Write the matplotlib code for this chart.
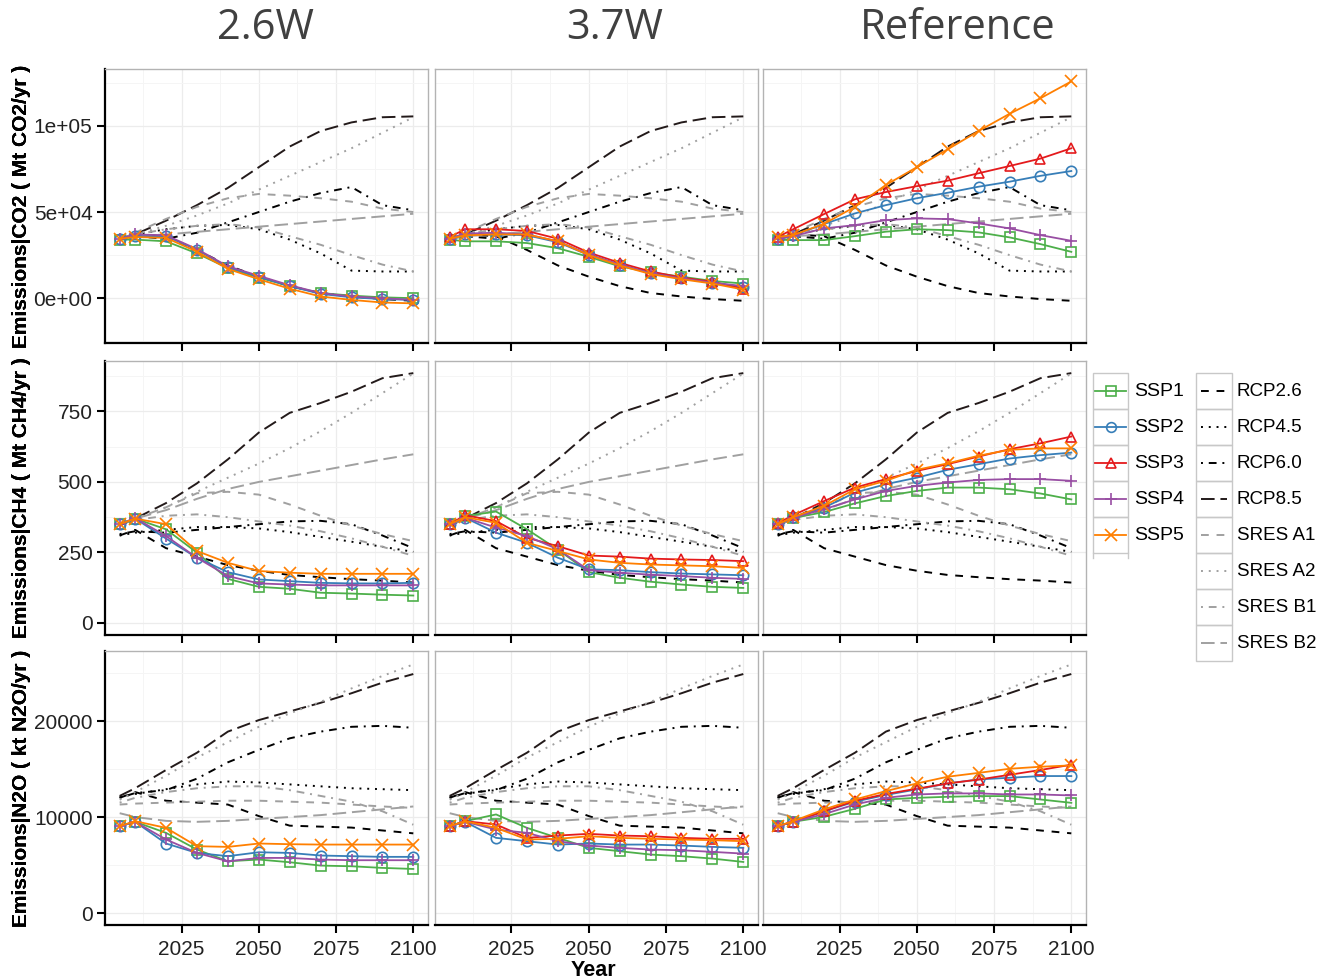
import matplotlib.pyplot as plt
from matplotlib.patches import Rectangle
from matplotlib.lines import Line2D

years = [2005, 2010, 2020, 2030, 2040, 2050, 2060, 2070, 2080, 2090, 2100]

# background scenarios (same in every column)
co2_bg = {
    "RCP2.6": [35000, 37000, 36000, 28000, 19000, 12500, 7000, 3000, 1000, -500, -1500],
    "RCP4.5": [35000, 37000, 40000, 42000, 42500, 40000, 34000, 26000, 16000, 15500, 15500],
    "RCP6.0": [35000, 36000, 34500, 38000, 44000, 50000, 56000, 61000, 64500, 54000, 51000],
    "RCP8.5": [34500, 37000, 45000, 54000, 64000, 76000, 88000, 97000, 102000, 105000, 105500],
    "SRES A1": [35000, 38000, 46000, 53000, 58000, 60500, 59500, 58000, 56000, 52000, 50000],
    "SRES A2": [35000, 37000, 42000, 48000, 55000, 63000, 71000, 79000, 87000, 96000, 105000],
    "SRES B1": [35000, 37000, 40000, 42000, 43000, 41000, 36000, 31000, 25000, 19500, 15500],
    "SRES B2": [34000, 36000, 37000, 38500, 40000, 41500, 43000, 44500, 46000, 47500, 49000],
}
ch4_bg = {
    "RCP2.6": [310, 330, 265, 235, 205, 185, 170, 162, 155, 150, 143],
    "RCP4.5": [310, 320, 330, 340, 340, 335, 322, 305, 288, 270, 252],
    "RCP6.0": [315, 325, 320, 330, 340, 350, 360, 362, 350, 310, 265],
    "RCP8.5": [345, 370, 425, 495, 580, 675, 745, 780, 820, 868, 886],
    "SRES A1": [350, 370, 410, 460, 465, 455, 420, 380, 345, 315, 290],
    "SRES A2": [350, 370, 410, 465, 515, 565, 620, 680, 745, 815, 885],
    "SRES B1": [350, 365, 380, 385, 375, 360, 345, 325, 300, 270, 238],
    "SRES B2": [350, 370, 400, 440, 475, 500, 520, 540, 560, 580, 598],
}
n2o_bg = {
    "RCP2.6": [12000, 12600, 11700, 11500, 11300, 10100, 9100, 9000, 8900, 8600, 8300],
    "RCP4.5": [12100, 12400, 12900, 13400, 13700, 13600, 13400, 13200, 13000, 12900, 12800],
    "RCP6.0": [12000, 12500, 12800, 14000, 15700, 17000, 18200, 18900, 19400, 19500, 19300],
    "RCP8.5": [12200, 13000, 14900, 16700, 18900, 20100, 21000, 21900, 22900, 24000, 24900],
    "SRES A1": [11300, 11400, 11500, 11600, 11700, 11700, 11600, 11500, 11300, 11100, 10950],
    "SRES A2": [11800, 12600, 14300, 16200, 17800, 19400, 20800, 22000, 23400, 24700, 25900],
    "SRES B1": [11500, 12000, 12600, 13000, 13200, 13200, 12800, 12200, 11600, 10600, 9200],
    "SRES B2": [10400, 10000, 9600, 9500, 9600, 9800, 10000, 10200, 10500, 10800, 11100],
}

# SSP runs per panel
co2_26 = {
    "SSP1": [34000, 34000, 33000, 26000, 17500, 12000, 7000, 3000, 1500, 500, 0],
    "SSP2": [34500, 36000, 36000, 28000, 18000, 12500, 7000, 2500, 500, -500, -1000],
    "SSP4": [34500, 37000, 36500, 28500, 18500, 13000, 7500, 3000, 1000, 0, -1000],
    "SSP5": [34500, 35500, 35000, 27000, 17000, 11000, 5500, 1000, -1000, -2500, -3000],
}
co2_37 = {
    "SSP1": [34000, 33000, 33000, 32000, 29000, 24000, 18500, 15000, 12500, 10000, 8500],
    "SSP2": [34500, 37000, 37000, 36500, 32500, 25000, 19500, 14500, 11500, 9000, 6500],
    "SSP3": [35500, 40000, 40000, 39000, 34500, 26500, 20500, 15500, 12000, 9500, 5500],
    "SSP4": [34500, 37500, 38000, 37000, 33000, 25500, 19500, 14500, 11500, 9000, 7000],
    "SSP5": [34500, 36500, 37000, 37000, 33000, 25000, 19000, 14000, 11000, 8500, 5000],
}
co2_ref = {
    "SSP1": [34000, 33700, 33700, 36000, 38600, 40000, 39500, 38200, 35300, 31400, 26900],
    "SSP2": [34500, 36500, 43000, 49200, 54000, 58000, 61200, 64700, 67600, 71000, 73800],
    "SSP3": [35500, 40000, 48800, 57400, 61600, 65000, 68200, 72500, 76700, 81000, 87000],
    "SSP4": [34500, 36000, 40500, 42400, 45300, 46300, 45900, 43400, 40500, 36600, 33300],
    "SSP5": [35500, 36600, 43200, 53000, 65700, 76000, 86400, 97000, 107000, 116000, 125800],
}
ch4_26 = {
    "SSP1": [350, 370, 332, 249, 156, 128, 121, 107, 104, 100, 97],
    "SSP2": [350, 370, 299, 231, 180, 154, 148, 142, 140, 140, 142],
    "SSP4": [350, 372, 308, 231, 166, 140, 136, 133, 133, 133, 133],
    "SSP5": [350, 370, 350, 255, 213, 184, 178, 174, 174, 174, 174],
}
ch4_37 = {
    "SSP1": [350, 379, 395, 332, 260, 180, 160, 146, 136, 128, 124],
    "SSP2": [350, 373, 320, 284, 231, 190, 187, 180, 175, 172, 169],
    "SSP3": [350, 382, 361, 302, 272, 239, 235, 228, 225, 223, 219],
    "SSP4": [350, 373, 338, 308, 261, 187, 178, 171, 166, 160, 156],
    "SSP5": [350, 375, 355, 284, 255, 225, 213, 207, 204, 201, 195],
}
ch4_ref = {
    "SSP1": [350, 372, 393, 424, 450, 468, 480, 480, 474, 459, 438],
    "SSP2": [350, 375, 409, 462, 492, 515, 543, 563, 583, 595, 604],
    "SSP3": [353, 382, 432, 480, 510, 539, 563, 590, 616, 637, 661],
    "SSP4": [350, 373, 403, 438, 468, 486, 498, 507, 510, 510, 504],
    "SSP5": [350, 375, 415, 474, 504, 543, 566, 593, 614, 619, 619],
}
n2o_26 = {
    "SSP1": [9050, 9500, 8350, 6610, 5390, 5570, 5290, 4940, 4870, 4700, 4590],
    "SSP2": [9050, 9500, 7240, 6260, 5920, 6330, 6260, 5990, 5920, 5850, 5850],
    "SSP4": [9050, 9500, 7660, 6260, 5390, 5740, 5740, 5570, 5500, 5500, 5500],
    "SSP5": [9050, 9570, 8870, 6960, 6890, 7240, 7170, 7130, 7130, 7130, 7130],
}
n2o_37 = {
    "SSP1": [9050, 9570, 10270, 8870, 7830, 6790, 6440, 6090, 5920, 5670, 5320],
    "SSP2": [9050, 9500, 7830, 7480, 7130, 7240, 7130, 7130, 7030, 6890, 6790],
    "SSP3": [9050, 9570, 9220, 7830, 8070, 8250, 8070, 8000, 7830, 7730, 7730],
    "SSP4": [9050, 9500, 8700, 8350, 7480, 7030, 6790, 6610, 6540, 6370, 6190],
    "SSP5": [9050, 9570, 8870, 7660, 7730, 8000, 7830, 7730, 7660, 7590, 7480],
}
n2o_ref = {
    "SSP1": [9050, 9500, 10020, 10860, 11830, 12000, 12110, 12180, 12180, 11830, 11480],
    "SSP2": [9050, 9500, 10600, 11600, 12300, 12880, 13500, 13920, 14090, 14270, 14270],
    "SSP3": [9050, 9500, 10600, 11700, 12400, 12950, 13500, 13900, 14400, 14900, 15450],
    "SSP4": [9050, 9500, 10300, 11310, 12000, 12350, 12460, 12460, 12350, 12350, 12250],
    "SSP5": [9050, 9570, 10790, 11830, 12700, 13500, 14200, 14600, 15030, 15240, 15380],
}

col_titles = ["2.6W", "3.7W", "Reference"]
row_labels = ["Emissions|CO2 ( Mt CO2/yr )", "Emissions|CH4 ( Mt CH4/yr )",
              "Emissions|N2O ( kt N2O/yr )"]
x_ticks = [2025, 2050, 2075, 2100]

ssp_style = {
    "SSP1": ("#4DAF4A", "s"),
    "SSP2": ("#377EB8", "o"),
    "SSP3": ("#E41A1C", "^"),
    "SSP4": ("#984EA3", "+"),
    "SSP5": ("#FF7F00", "x"),
}
bg_style = {
    "RCP2.6": ("black", (4, 4)),
    "RCP4.5": ("black", (1, 3)),
    "RCP6.0": ("black", (1, 3, 4, 3)),
    "RCP8.5": ("#231a1a", (7, 3)),
    "SRES A1": ("#a0a0a0", (4, 4)),
    "SRES A2": ("#a0a0a0", (1, 3)),
    "SRES B1": ("#a0a0a0", (1, 3, 4, 3)),
    "SRES B2": ("#a0a0a0", (7, 3)),
}

rows = [
    (co2_bg, [co2_26, co2_37, co2_ref], (-26000, 133000), [0, 50000, 100000],
     ["0e+00", "5e+04", "1e+05"], [-25000, 25000, 75000, 125000]),
    (ch4_bg, [ch4_26, ch4_37, ch4_ref], (-43, 929), [0, 250, 500, 750],
     ["0", "250", "500", "750"], [125, 375, 625, 875]),
    (n2o_bg, [n2o_26, n2o_37, n2o_ref], (-1250, 27300), [0, 10000, 20000],
     ["0", "10000", "20000"], [5000, 15000, 25000]),
]

W, H = 1319, 980
fig = plt.figure(figsize=(W / 100, H / 100), dpi=100)
plt.rcParams['font.family'] = ['Liberation Sans', 'DejaVu Sans']

col_left = [105, 435, 763]
row_top = [69, 361, 651]
pw, ph = 323, 274

for r, (bg, panels, ylim, yt, ytl, ymin) in enumerate(rows):
    for c in range(3):
        ax = fig.add_axes([col_left[c] / W, 1 - (row_top[r] + ph) / H, pw / W, ph / H])
        for name, vals in bg.items():
            color, dash = bg_style[name]
            ax.plot(years, vals, color=color, lw=1.4, dashes=dash, zorder=2)
        for name, vals in panels[c].items():
            color, mk = ssp_style[name]
            ax.plot(years, vals, color=color, lw=1.3, marker=mk, ms=8.5 if mk in "+x" else 7.5,
                    mfc="none", mew=1.2, zorder=3)
        ax.set_xlim(2000.25, 2104.75)
        ax.set_ylim(*ylim)
        ax.set_xticks(x_ticks)
        ax.set_xticks([2012.5, 2037.5, 2062.5, 2087.5], minor=True)
        ax.set_yticks(yt)
        ax.set_yticks(ymin, minor=True)
        ax.grid(True, which="major", color="#ececec", lw=0.9, zorder=0)
        ax.grid(True, which="minor", color="#f5f5f5", lw=0.7, zorder=0)
        ax.set_axisbelow(True)
        for s in ["top", "right", "left"]:
            ax.spines[s].set_color("#b3b3b3")
            ax.spines[s].set_linewidth(1.0)
        ax.spines["bottom"].set_color("black")
        ax.spines["bottom"].set_linewidth(1.6)
        ax.tick_params(axis="x", which="major", direction="out", length=6, width=1.5,
                       color="black", labelsize=15, pad=5, labelcolor="#222222")
        ax.tick_params(which="minor", length=0)
        if r < 2:
            ax.set_xticklabels([])
        if c == 0:
            ax.spines["left"].set_color("black")
            ax.spines["left"].set_linewidth(1.6)
            ax.set_yticklabels(ytl)
            ax.tick_params(axis="y", which="major", direction="out", length=6, width=1.5,
                           color="black", labelsize=15, pad=3, labelcolor="#222222")
        else:
            ax.tick_params(axis="y", which="major", length=0)
            ax.set_yticklabels([])
        fig.text(22 / W, 1 - (row_top[r] + ph / 2) / H, row_labels[r], rotation=90,
                 ha="center", va="center", fontsize=15, fontweight="bold")

title_x = [265, 615, 958]
for t, x in zip(col_titles, title_x):
    fig.text(x / W, 1 - 28 / H, t, ha="center", va="center", fontsize=30,
             family="Open Sans", color="#404040")

fig.text(593 / W, 1 - 970 / H, "Year", ha="center", va="center", fontsize=15.5,
         fontweight="bold")

# legends drawn in pixel coordinates
lax = fig.add_axes([0, 0, 1, 1], zorder=5)
lax.set_xlim(0, W)
lax.set_ylim(H, 0)
lax.axis("off")

key_h = 36
y0 = 373
for i, name in enumerate(ssp_style):
    color, mk = ssp_style[name]
    yt0 = y0 + i * key_h
    lax.add_patch(Rectangle((1093, yt0), 35, key_h, fill=False, ec="#c8c8c8", lw=1))
    yc = yt0 + key_h / 2
    lax.add_line(Line2D([1095, 1126], [yc, yc], color=color, lw=1.3))
    lax.add_line(Line2D([1110.5], [yc], color=color, marker=mk, mfc="none", mew=1.2,
                        ms=8 if mk in "+x" else 7))
    lax.text(1134, yc, name, ha="left", va="center", fontsize=14)
lax.add_line(Line2D([1093, 1093], [y0 + 5 * key_h, y0 + 5 * key_h + 5], color="#c8c8c8", lw=1))
lax.add_line(Line2D([1128, 1128], [y0 + 5 * key_h, y0 + 5 * key_h + 5], color="#c8c8c8", lw=1))

for i, name in enumerate(bg_style):
    color, dash = bg_style[name]
    yt0 = y0 + i * key_h
    lax.add_patch(Rectangle((1196, yt0), 36, key_h, fill=False, ec="#c8c8c8", lw=1))
    yc = yt0 + key_h / 2
    lax.add_line(Line2D([1201, 1227], [yc, yc], color=color, lw=1.4, dashes=dash))
    lax.text(1237, yc, name, ha="left", va="center", fontsize=13.5)

fig.savefig("out.png", dpi=100)
